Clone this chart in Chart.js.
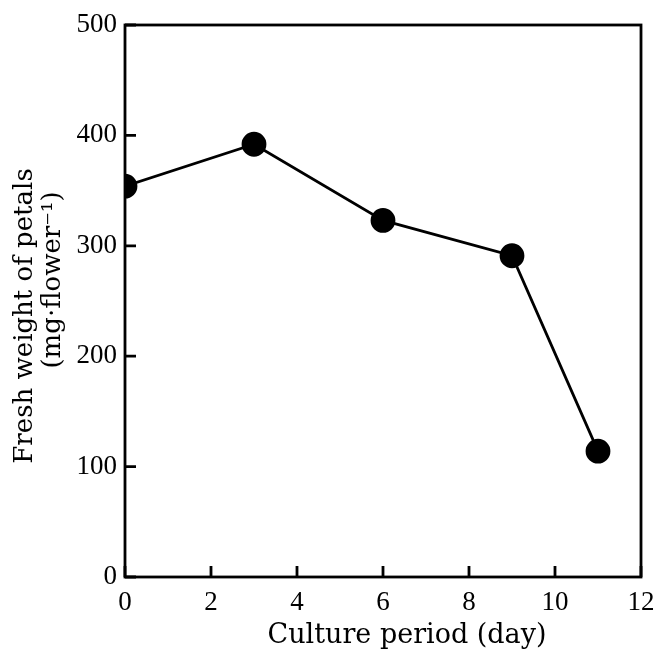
<!DOCTYPE html>
<html lang="en">
<head>
<meta charset="UTF-8">
<title>Fresh weight of petals</title>
<script src="https://cdn.jsdelivr.net/npm/chart.js@4/dist/chart.umd.min.js"></script>
<style>
  body { margin: 0; background: #fff; }
  canvas { display: block; }
</style>
</head>
<body>
<canvas id="chart" width="666" height="650"></canvas>
<script>
// culture period (day) and fresh weight of petals (mg per flower)
const days = [0, 3, 6, 9, 11];
const weights = [354, 392, 323, 291, 114];
const xTicks = [0, 2, 4, 6, 8, 10, 12];
const yTicks = [0, 100, 200, 300, 400, 500];
const xTitle = 'Culture period (day)';
const yTitle = ['Fresh weight of petals', '(mg\u00b7flower\u207b\u00b9)'];

// box round the plot plus short inward ticks
const frame = {
  id: 'frame',
  beforeDatasetsDraw(chart) {
    const { ctx, chartArea: a, scales } = chart;
    ctx.save();
    ctx.strokeStyle = '#000';
    ctx.lineWidth = 2.8;
    ctx.strokeRect(a.left, a.top, a.right - a.left, a.bottom - a.top);
    ctx.beginPath();
    xTicks.forEach(v => {
      const px = scales.x.getPixelForValue(v);
      ctx.moveTo(px, a.bottom);
      ctx.lineTo(px, a.bottom - 11);
    });
    yTicks.forEach(v => {
      const py = scales.y.getPixelForValue(v);
      ctx.moveTo(a.left, py);
      ctx.lineTo(a.left + 11, py);
    });
    ctx.stroke();
    ctx.restore();
  }
};

// axis titles, placed a little off-centre like the printed figure
const titles = {
  id: 'titles',
  afterDraw(chart) {
    const { ctx, chartArea: a } = chart;
    const cx = (a.left + a.right) / 2;
    const cy = (a.top + a.bottom) / 2;
    ctx.save();
    ctx.fillStyle = '#000';
    ctx.textAlign = 'center';
    ctx.textBaseline = 'middle';
    ctx.font = '27px "DejaVu Serif"';
    ctx.fillText(xTitle, cx + 24, a.bottom + 59);
    ctx.font = '26px "DejaVu Serif"';
    ctx.translate(25, cy + 15);
    ctx.rotate(-Math.PI / 2);
    ctx.fillText(yTitle[0], 0, 0);
    ctx.rotate(Math.PI / 2);
    ctx.translate(28, -36);
    ctx.rotate(-Math.PI / 2);
    ctx.fillText(yTitle[1], 0, 0);
    ctx.restore();
  }
};

const tickFont = { family: 'Liberation Serif', size: 27 };

new Chart(document.getElementById('chart'), {
  type: 'line',
  data: {
    datasets: [{
      data: days.map((d, i) => ({ x: d, y: weights[i] })),
      borderColor: '#000',
      borderWidth: 2.8,
      pointBackgroundColor: '#000',
      pointBorderColor: '#000',
      pointRadius: 11,
      pointHoverRadius: 11,
      tension: 0
    }]
  },
  options: {
    responsive: false,
    animation: false,
    layout: { padding: { top: 25, right: 25, left: 0, bottom: 0 } },
    plugins: { legend: { display: false }, tooltip: { enabled: false } },
    scales: {
      x: {
        type: 'linear',
        min: 0, max: 12,
        afterBuildTicks: s => { s.ticks = xTicks.map(v => ({ value: v })); },
        afterFit: s => { s.height = 73; },
        grid: { display: false },
        border: { display: false },
        ticks: { color: '#000', font: tickFont, padding: 2, maxRotation: 0 }
      },
      y: {
        min: 0, max: 500,
        afterBuildTicks: s => { s.ticks = yTicks.map(v => ({ value: v })); },
        afterFit: s => { s.width = 125; },
        grid: { display: false },
        border: { display: false },
        ticks: { color: '#000', font: tickFont, padding: 0 }
      }
    }
  },
  plugins: [frame, titles]
});
</script>
</body>
</html>
